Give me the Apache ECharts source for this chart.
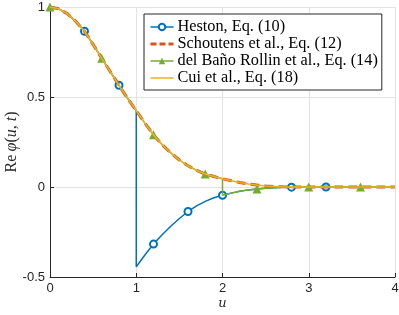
<!DOCTYPE html>
<html><head><meta charset="utf-8">
<script src="https://cdn.jsdelivr.net/npm/echarts@6/dist/echarts.min.js"></script>
<style>html,body{margin:0;padding:0;background:#fff}#c{width:399px;height:315px}</style>
</head><body><div id="c"></div>
<script>
// u grid
const uGrid = [0.0,0.1,0.2,0.3,0.4,0.5,0.6,0.7,0.8,0.9,1.0,1.1,1.2,1.3,1.4,1.5,1.6,1.7,1.8,1.9,2.0,2.1,2.2,2.3,2.4,2.5,2.6,2.7,2.8,2.9,3.0,3.1,3.2,3.3,3.4,3.5,3.6,3.7,3.8,3.9,4.0];
// smooth (correct) branch of Re phi
const mainVals = [1.0,0.99,0.963,0.92,0.865,0.792,0.715,0.64,0.565,0.492,0.424,0.355,0.29,0.235,0.19,0.15,0.118,0.092,0.072,0.058,0.046,0.035,0.025,0.017,0.011,0.006,0.003,0.001,0.0,0.0,0.0,0.0,0.0,0.0,0.0,0.0,0.0,0.0,0.0,0.0,0.0];
// wrong (discontinuous) branch, defined from u = 1.0 onwards
const lowerVals = [-0.443,-0.378,-0.317,-0.265,-0.218,-0.175,-0.136,-0.105,-0.08,-0.06,-0.046,-0.034,-0.024,-0.016,-0.011,-0.007,-0.004,-0.002,-0.001,0.0,0.0,0.0,0.0,0.0,0.0,0.0,0.0,0.0,0.0,0.0,0.0];
const hestonJumpU = 1.0;
const dbrJumpU = 2.0;
const hestonMarkersU = [0.4,0.8,1.2,1.6,2.0,2.8,3.2];
const dbrMarkersU = [0,0.6,1.2,1.8,2.4,3.0,3.6];
const xTicks = [0,1,2,3,4];
const yTicks = [-0.5,0,0.5,1];
const names = ['Heston, Eq. (10)','Schoutens et al., Eq. (12)','del Baño Rollin et al., Eq. (14)','Cui et al., Eq. (18)'];

const lowerStart = uGrid.indexOf(1.0);
function lowerAt(i){ return lowerVals[i - lowerStart]; }
function isMarker(u, list){ return list.some(m => Math.abs(m-u) < 1e-9); }
function branchSeries(jumpU, markers, size){
  const d = [];
  uGrid.forEach((u,i)=>{
    if (u < jumpU - 1e-9) d.push({value:[u, mainVals[i]], symbolSize: isMarker(u,markers)?size:0});
    else if (Math.abs(u-jumpU)<1e-9){
      d.push({value:[u, mainVals[i]], symbolSize:0});
      d.push({value:[u, lowerAt(i)], symbolSize:0});
    } else d.push({value:[u, lowerAt(i)], symbolSize: isMarker(u,markers)?size:0});
  });
  return d;
}
const mainData = uGrid.map((u,i)=>[u, mainVals[i]]);

const chart = echarts.init(document.getElementById('c'), null, {renderer:'canvas'});
const axisCol = '#262626';
const cols = ['#0072BD','#D95319','#77AC30','#EDB120'];
chart.setOption({
  animation:false,
  backgroundColor:'#fff',
  grid:{left:50, right:4, top:7, bottom:38, containLabel:false, outerBoundsMode:'none'},
  xAxis:{type:'value', min:0, max:4, interval:1,
    name:'u', nameLocation:'middle', nameGap:20, nameMoveOverlap:false,
    nameTextStyle:{fontFamily:'DejaVu Serif', fontStyle:'italic', fontSize:13, color:axisCol},
    axisLine:{onZero:false, lineStyle:{color:axisCol, width:1}},
    axisTick:{inside:true, length:4, lineStyle:{color:axisCol}},
    axisLabel:{fontFamily:'Liberation Sans', fontSize:13, color:axisCol, margin:5},
    splitLine:{show:true, lineStyle:{color:'#e3e3e3', width:1}}},
  yAxis:{type:'value', min:-0.5, max:1, interval:0.5,
    name:'{r|Re} {i|φ}{r|(}{i|u}{r|, }{i|t}{r|)}', nameLocation:'middle', nameGap:30, nameRotate:90, nameMoveOverlap:false,
    nameTextStyle:{rich:{r:{fontFamily:'Liberation Serif', fontSize:16, color:axisCol},
                         i:{fontFamily:'Liberation Serif', fontStyle:'italic', fontSize:16, color:axisCol}}},
    axisLine:{onZero:false, lineStyle:{color:axisCol, width:1}},
    axisTick:{inside:true, length:4, lineStyle:{color:axisCol}},
    axisLabel:{fontFamily:'Liberation Sans', fontSize:13, color:axisCol, margin:5,
      formatter:v=>String(v)},
    splitLine:{show:true, lineStyle:{color:'#e3e3e3', width:1}}},
  legend:{orient:'vertical', left:144, top:14, padding:[5,4,4,5], itemGap:1,
    itemWidth:23, itemHeight:8,
    backgroundColor:'#fff', borderColor:axisCol, borderWidth:1, borderRadius:0,
    textStyle:{fontFamily:'Liberation Serif', fontSize:16.3, lineHeight:16, color:'#000', padding:[0,0,0,-1]},
    data:[
      {name:names[0], lineStyle:{color:cols[0], width:1.5}},
      {name:names[1], itemStyle:{opacity:0}, lineStyle:{color:cols[1], width:3, type:[6,3]}},
      {name:names[2], lineStyle:{color:cols[2], width:1.5}},
      {name:names[3], itemStyle:{opacity:0}, lineStyle:{color:cols[3], width:1.5}}
    ]},
  series:[
    {name:names[0], type:'line', data:branchSeries(hestonJumpU, hestonMarkersU, 7),
      symbol:'emptyCircle', symbolSize:7, showSymbol:true, showAllSymbol:true,
      lineStyle:{color:cols[0], width:1.5}, itemStyle:{color:cols[0], borderWidth:1.3}, z:2},
    {name:names[1], type:'line', data:mainData, symbol:'none',
      lineStyle:{color:cols[1], width:3, type:[9,5]}, itemStyle:{color:cols[1]}, z:3},
    {name:names[2], type:'line', data:branchSeries(dbrJumpU, dbrMarkersU, 9),
      symbol:'triangle', symbolSize:9, showSymbol:true, showAllSymbol:true,
      lineStyle:{color:cols[2], width:1.5}, itemStyle:{color:cols[2]}, z:4},
    {name:names[3], type:'line', data:mainData, symbol:'none',
      lineStyle:{color:cols[3], width:1.5}, itemStyle:{color:cols[3]}, z:5}
  ]
});
</script></body></html>
